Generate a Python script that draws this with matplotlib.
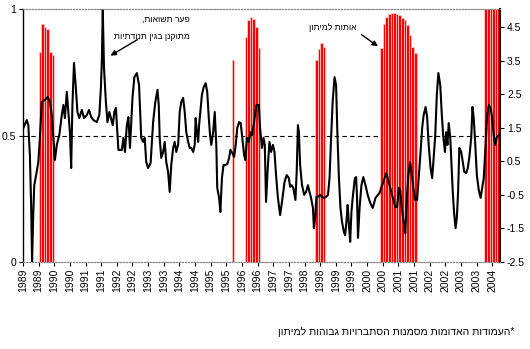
import matplotlib
matplotlib.use('Agg')
from matplotlib import pyplot as plt

plt.rcParams['font.family'] = ['Liberation Sans', 'DejaVu Sans']

# recession probability (left axis), monthly bars
bar_months = ['1989-07', '1989-08', '1989-09', '1989-10', '1989-11', '1989-12',
              '1995-09',
              '1996-02', '1996-03', '1996-04', '1996-05', '1996-06', '1996-07',
              '1998-05', '1998-06', '1998-07', '1998-08',
              '2000-06', '2000-07', '2000-08', '2000-09', '2000-10', '2000-11', '2000-12',
              '2001-01', '2001-02', '2001-03', '2001-04', '2001-05', '2001-06', '2001-07',
              '2003-10', '2003-11', '2003-12', '2004-01', '2004-02', '2004-03']
bar_probs = [0.83, 0.94, 0.93, 0.92, 0.83, 0.82,
             0.80,
             0.89, 0.955, 0.967, 0.962, 0.93, 0.846,
             0.80, 0.84, 0.865, 0.85,
             0.847, 0.94, 0.97, 0.979, 0.983, 0.983, 0.98,
             0.976, 0.966, 0.955, 0.937, 0.897, 0.851, 0.825,
             1.0, 1.0, 1.0, 1.0, 1.0, 1.0]

# adjusted yield spread (right axis)
line_years = [
    1989.01, 1989.12, 1989.17, 1989.22, 1989.26, 1989.29, 1989.33, 1989.36, 1989.42, 1989.49,
    1989.54, 1989.60, 1989.70, 1989.79, 1989.86, 1989.92, 1989.97, 1990.02, 1990.08, 1990.16,
    1990.24, 1990.29, 1990.34, 1990.40, 1990.45, 1990.50, 1990.54, 1990.58, 1990.63, 1990.69,
    1990.74, 1990.80, 1990.88, 1990.95, 1991.04, 1991.11, 1991.18, 1991.25, 1991.36, 1991.44,
    1991.49, 1991.52, 1991.55, 1991.59, 1991.65, 1991.70, 1991.76, 1991.81, 1991.87, 1991.92,
    1991.97, 1992.02, 1992.05, 1992.16, 1992.21, 1992.26, 1992.32, 1992.37, 1992.42, 1992.50,
    1992.56, 1992.64, 1992.71, 1992.78, 1992.84, 1992.89, 1992.94, 1993.00, 1993.08, 1993.16,
    1993.23, 1993.30, 1993.34, 1993.37, 1993.42, 1993.48, 1993.53, 1993.58, 1993.64, 1993.69,
    1993.74, 1993.80, 1993.85, 1993.90, 1993.96, 1994.01, 1994.06, 1994.12, 1994.17, 1994.22,
    1994.28, 1994.33, 1994.38, 1994.44, 1994.49, 1994.52, 1994.56, 1994.60, 1994.63, 1994.67,
    1994.72, 1994.78, 1994.84, 1994.89, 1994.94, 1994.98, 1995.02, 1995.08, 1995.13, 1995.18,
    1995.21, 1995.27, 1995.31, 1995.36, 1995.41, 1995.47, 1995.53, 1995.59, 1995.63, 1995.69,
    1995.75, 1995.80, 1995.85, 1995.91, 1995.96, 1996.01, 1996.07, 1996.11, 1996.16, 1996.22,
    1996.27, 1996.32, 1996.39, 1996.46, 1996.54, 1996.58, 1996.64, 1996.69, 1996.73, 1996.77,
    1996.83, 1996.88, 1996.93, 1996.99, 1997.04, 1997.09, 1997.15, 1997.22, 1997.28, 1997.36,
    1997.43, 1997.50, 1997.54, 1997.59, 1997.64, 1997.71, 1997.75, 1997.79, 1997.82, 1997.86,
    1997.92, 1997.99, 1998.05, 1998.11, 1998.16, 1998.21, 1998.27, 1998.30, 1998.34, 1998.38,
    1998.43, 1998.50, 1998.56, 1998.63, 1998.69, 1998.75, 1998.80, 1998.85, 1998.90, 1998.96,
    1999.01, 1999.05, 1999.10, 1999.15, 1999.20, 1999.26, 1999.30, 1999.35, 1999.38, 1999.42,
    1999.46, 1999.50, 1999.54, 1999.61, 1999.65, 1999.68, 1999.71, 1999.76, 1999.82, 1999.88,
    1999.95, 2000.02, 2000.10, 2000.18, 2000.27, 2000.40, 2000.45, 2000.52, 2000.61, 2000.66,
    2000.74, 2000.82, 2000.90, 2000.96, 2001.02, 2001.06, 2001.10, 2001.14, 2001.18, 2001.22,
    2001.25, 2001.28, 2001.32, 2001.38, 2001.43, 2001.48, 2001.54, 2001.60, 2001.65, 2001.71,
    2001.76, 2001.81, 2001.87, 2001.92, 2001.97, 2002.03, 2002.08, 2002.12, 2002.18, 2002.23,
    2002.28, 2002.34, 2002.39, 2002.44, 2002.49, 2002.53, 2002.57, 2002.61, 2002.66, 2002.70,
    2002.74, 2002.78, 2002.83, 2002.87, 2002.91, 2002.95, 2003.01, 2003.06, 2003.11, 2003.17,
    2003.22, 2003.27, 2003.33, 2003.37, 2003.41, 2003.46, 2003.51, 2003.57, 2003.63, 2003.68,
    2003.73, 2003.79, 2003.84, 2003.89, 2003.95, 2004.00, 2004.05, 2004.10, 2004.15, 2004.21]
line_values = [
    1.49, 1.73, 1.58, 0.69, -0.80, -2.50, -1.01, -0.21, 0.09, 0.48,
    1.20, 2.27, 2.33, 2.42, 2.27, 1.88, 1.20, 0.54, 0.99, 1.28,
    1.88, 2.18, 1.79, 2.57, 1.97, 1.37, 0.30, 2.18, 3.43, 2.69,
    1.97, 1.79, 2.03, 1.79, 1.88, 2.03, 1.82, 1.73, 1.67, 1.88,
    2.69, 3.46, 5.04, 3.28, 2.27, 1.67, 1.97, 1.79, 1.58, 1.97,
    2.09, 1.28, 0.84, 0.84, 1.20, 0.78, 1.58, 1.82, 0.90, 2.39,
    3.01, 3.13, 2.77, 1.20, 1.08, 1.20, 0.48, 0.30, 0.45, 1.67,
    2.27, 2.63, 2.18, 1.20, 0.60, 0.78, 1.08, 0.48, 0.18, -0.41,
    0.39, 0.90, 1.08, 0.78, 0.99, 1.97, 2.27, 2.39, 1.97, 1.37,
    1.08, 0.90, 0.90, 0.78, 0.99, 1.79, 1.37, 1.08, 1.58, 1.97,
    2.48, 2.72, 2.83, 2.57, 1.79, 1.28, 0.99, 1.37, 1.97, 0.99,
    -0.29, -0.59, -1.01, 0.00, 0.39, 0.39, 0.42, 0.60, 0.84, 0.75,
    0.63, 0.99, 1.49, 1.67, 1.64, 1.20, 0.69, 0.54, 1.20, 1.08,
    1.37, 1.28, 1.67, 2.18, 2.18, 1.49, 0.90, 1.20, 0.99, -0.71,
    0.39, 1.08, 0.78, 0.99, 0.78, 0.09, -0.59, -1.10, -0.71, -0.12,
    0.09, 0.00, -0.26, -0.21, -0.29, -0.65, 0.18, 1.58, 1.37, 0.39,
    -0.21, -0.50, -0.41, -0.21, -0.41, -0.59, -0.89, -1.49, -1.19, -0.56,
    -0.56, -0.50, -0.56, -0.59, -0.56, -0.50, 0.00, 1.20, 2.27, 3.01,
    2.77, 1.37, 0.00, -0.89, -1.31, -1.61, -1.70, -1.19, -0.80, -1.40,
    -1.90, -1.01, -0.59, 0.00, 0.03, -0.59, -1.78, -0.89, -0.21, 0.03,
    -0.21, -0.50, -0.74, -0.89, -0.59, -0.44, -0.29, -0.12, 0.15, 0.00,
    -0.29, -0.59, -0.86, -0.86, -0.29, -0.35, -0.80, -1.10, -1.40, -1.64,
    -1.10, -0.50, 0.09, 0.48, 0.09, -0.29, -0.65, -0.65, 0.00, 0.78,
    1.49, 1.88, 2.12, 1.82, 0.99, 0.30, 0.00, 0.48, 1.28, 2.48,
    3.13, 2.77, 1.88, 1.20, 0.78, 1.37, 0.99, 1.64, 1.20, 0.39,
    -0.41, -1.01, -1.49, -1.19, -0.41, 0.90, 0.78, 0.48, 0.18, 0.15,
    0.30, 0.63, 1.20, 2.12, 1.79, 0.99, 0.09, -0.35, -0.59, -0.29,
    0.00, 0.99, 1.88, 2.18, 2.09, 1.79, 1.28, 0.99, 1.23, 1.28]

tick_years = [1989 + i / 2 for i in range(31)]
left_ticks = [0, 0.5, 1]
right_ticks = [-2.5, -1.5, -0.5, 0.5, 1.5, 2.5, 3.5, 4.5]

label_spread = ['פער תשואות,', 'מתוקנן בגין תנודתיות']
label_signal = 'אותות למיתון'
footnote = '*העמודות האדומות מסמנות הסתברויות גבוהות למיתון'


def rtl(text):
    '''matplotlib has no bidi support, so lay Hebrew out visually.'''
    return text[::-1]


def month_to_year(m):
    y, mo = m.split('-')
    return int(y) + (int(mo) - 1) / 12


fig = plt.figure(figsize=(5.3, 3.49), dpi=100)
ax = fig.add_axes([23 / 530, 1 - 262 / 349, 477 / 530, 253 / 349])
ax2 = ax.twinx()

bar_x = [month_to_year(m) for m in bar_months]
ax.bar(bar_x, bar_probs, width=1 / 12, align='edge', color='#ff0000',
       edgecolor='#ffd0d0', linewidth=0.5, zorder=2)
ax.axhline(0.5, color='black', lw=0.8, ls=(0, (4, 3)), zorder=1)

ax2.plot(line_years, line_values, color='black', lw=1.5)

ax.set_xlim(1989, 2004.25)
ax.set_ylim(0, 1)
ax2.set_ylim(-2.5, 5.04)

ax.set_xticks(tick_years)
ax.set_xticklabels([str(int(y)) for y in tick_years], rotation=90)
ax.set_yticks(left_ticks)
ax.set_yticklabels(['{:g}'.format(v) for v in left_ticks])
ax2.set_yticks(right_ticks)
ax2.set_yticklabels(['{:g}'.format(v) for v in right_ticks])

for a in (ax, ax2):
    a.tick_params(direction='out', length=3, width=0.8, labelsize=7.5, pad=2)
    a.spines['top'].set_color('#888888')
    a.spines['top'].set_linestyle(':')
    a.spines['bottom'].set_color('#888888')
    a.spines['bottom'].set_linestyle(':')
ax2.spines['left'].set_visible(False)
ax.spines['right'].set_visible(False)
ax.spines['left'].set_linewidth(1.0)
ax2.spines['right'].set_linewidth(1.5)

# annotations
ax.text(1994.34, 0.96, rtl(label_spread[0]), ha='right', va='center', fontsize=6.2)
ax.text(1994.34, 0.893, rtl(label_spread[1]), ha='right', va='center', fontsize=6.2)
ax.annotate('', xy=(1991.72, 0.81), xytext=(1992.74, 0.885),
            arrowprops=dict(arrowstyle='-|>', color='black', lw=1, mutation_scale=8),
            zorder=5)
ax.text(1999.65, 0.925, rtl(label_signal), ha='right', va='center', fontsize=6.2)
ax.annotate('', xy=(2000.42, 0.846), xytext=(1999.75, 0.905),
            arrowprops=dict(arrowstyle='-|>', color='black', lw=1, mutation_scale=8),
            zorder=5)

fig.text(515 / 530, 1 - 332 / 349, rtl(footnote), ha='right', va='center', fontsize=7.5)

fig.savefig('out.png', dpi=100)
